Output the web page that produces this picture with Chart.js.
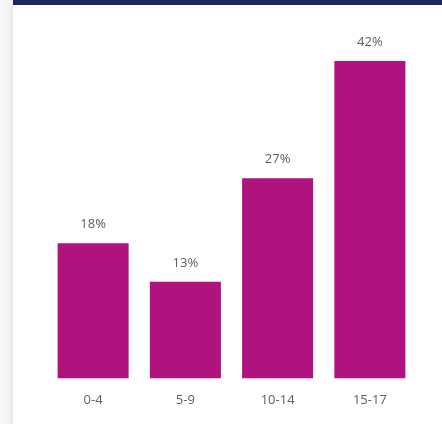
<!DOCTYPE html>
<html>
<head>
<meta charset="utf-8">
<script src="https://cdn.jsdelivr.net/npm/chart.js@4"></script>
<style>
  html, body { margin: 0; padding: 0; background: #ffffff; }
  #wrap { position: relative; width: 442px; height: 424px; overflow: hidden; }
  #edge { position: absolute; left: 0; top: 0; width: 13px; height: 424px;
          background: linear-gradient(to right, #fafafa, #f3f3f3 70%, #e9e9e9); }
  #topbar { position: absolute; left: 13px; top: 0; width: 429px; height: 5px; background: #1d2660; }
  canvas { position: absolute; left: 0; top: 0; }
</style>
</head>
<body>
<div id="wrap">
  <div id="edge"></div>
  <div id="topbar"></div>
  <canvas id="chart-age" width="442" height="424"></canvas>
</div>
<script>
const age_groups = ['0-4', '5-9', '10-14', '15-17']
const share_pct = [17.9, 12.8, 26.5, 42]

const color_bar = '#b0137e'
const color_text = '#605e5c'
const font_family = '"Segoe UI", "Open Sans", sans-serif'

// draws the % value above each bar
const bar_labels = {
    id: 'bar_labels',
    afterDatasetsDraw(chart) {
        const ctx = chart.ctx
        const meta = chart.getDatasetMeta(0)
        ctx.save()
        ctx.fillStyle = color_text
        ctx.font = '13px ' + font_family
        ctx.textAlign = 'center'
        ctx.textBaseline = 'bottom'
        meta.data.forEach((bar, i) => {
            ctx.fillText(Math.round(share_pct[i]) + '%', bar.x, bar.y - 12)
        })
        ctx.restore()
    }
}

new Chart('chart-age', {
    type: 'bar',
    data: {
        labels: age_groups,
        datasets: [{
            data: share_pct,
            backgroundColor: color_bar,
            borderWidth: 0,
            barPercentage: 0.77,
            categoryPercentage: 1
        }]
    },
    options: {
        responsive: false,
        animation: false,
        layout: { padding: { left: 47, right: 26, top: 61, bottom: 10 } },
        plugins: { legend: { display: false }, tooltip: { enabled: false } },
        scales: {
            x: {
                grid: { display: false },
                border: { display: false },
                ticks: { color: color_text, padding: 6, font: { size: 13, family: font_family } }
            },
            y: { display: false, min: 0, max: 42 }
        }
    },
    plugins: [bar_labels]
})
</script>
</body>
</html>
